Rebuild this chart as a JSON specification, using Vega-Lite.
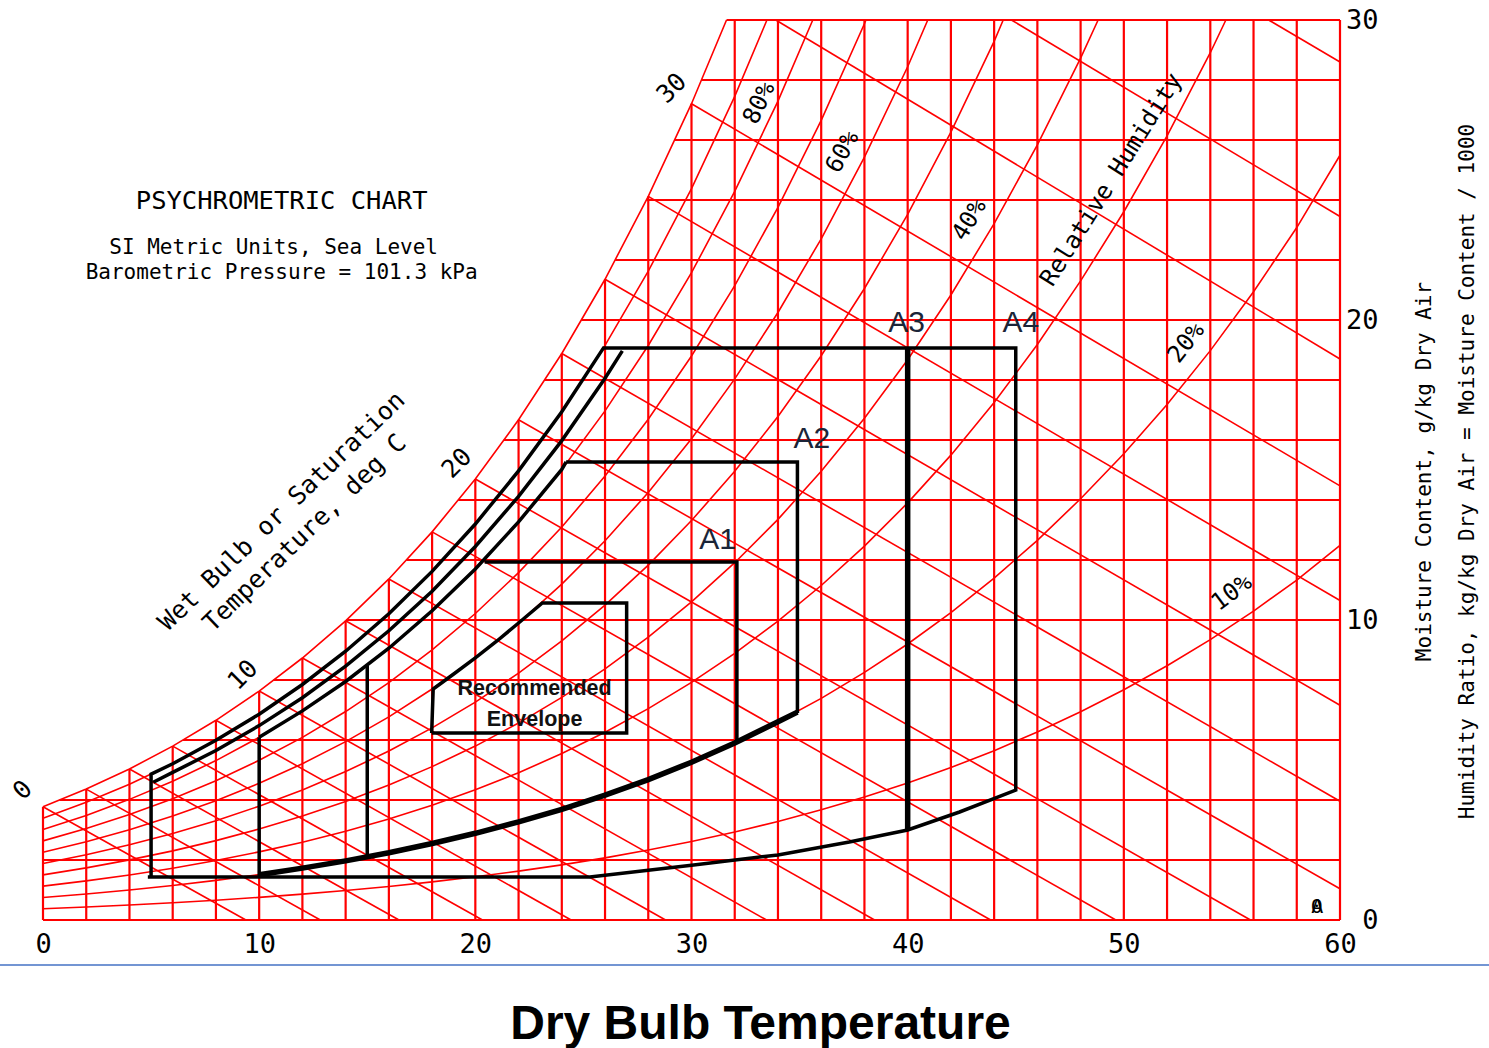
{
"$schema":"https://vega.github.io/schema/vega-lite/v6.json",
"width":1297,"height":900,
"autosize":{"type":"none"},
"padding":{"left":43,"top":20,"right":149,"bottom":128},
"background":"white",
"config":{"view":{"stroke":null}},
"datasets":{
"grid":[
{"x":0,"y":0,"x2":0,"y2":3.775},{"x":2,"y":0,"x2":2,"y2":4.364},{"x":4,"y":0,"x2":4,"y2":5.034},{"x":6,"y":0,"x2":6,"y2":5.795},{"x":8,"y":0,"x2":8,"y2":6.657},{"x":10,"y":0,"x2":10,"y2":7.632},{"x":12,"y":0,"x2":12,"y2":8.733},{"x":14,"y":0,"x2":14,"y2":9.973},{"x":16,"y":0,"x2":16,"y2":11.369},{"x":18,"y":0,"x2":18,"y2":12.938},{"x":20,"y":0,"x2":20,"y2":14.699},{"x":22,"y":0,"x2":22,"y2":16.673},{"x":24,"y":0,"x2":24,"y2":18.884},{"x":26,"y":0,"x2":26,"y2":21.358},{"x":28,"y":0,"x2":28,"y2":24.122},{"x":30,"y":0,"x2":30,"y2":27.21},
{"x":32,"y":0,"x2":32,"y2":30},{"x":34,"y":0,"x2":34,"y2":30},{"x":36,"y":0,"x2":36,"y2":30},{"x":38,"y":0,"x2":38,"y2":30},{"x":40,"y":0,"x2":40,"y2":30},{"x":42,"y":0,"x2":42,"y2":30},{"x":44,"y":0,"x2":44,"y2":30},{"x":46,"y":0,"x2":46,"y2":30},{"x":48,"y":0,"x2":48,"y2":30},{"x":50,"y":0,"x2":50,"y2":30},{"x":52,"y":0,"x2":52,"y2":30},{"x":54,"y":0,"x2":54,"y2":30},{"x":56,"y":0,"x2":56,"y2":30},{"x":58,"y":0,"x2":58,"y2":30},{"x":60,"y":0,"x2":60,"y2":30},
{"x":0,"y":0,"x2":60,"y2":0},{"x":0,"y":2,"x2":60,"y2":2},{"x":0.764,"y":4,"x2":60,"y2":4},{"x":6.476,"y":6,"x2":60,"y2":6},{"x":10.668,"y":8,"x2":60,"y2":8},{"x":14.039,"y":10,"x2":60,"y2":10},{"x":16.804,"y":12,"x2":60,"y2":12},{"x":19.206,"y":14,"x2":60,"y2":14},{"x":21.318,"y":16,"x2":60,"y2":16},{"x":23.2,"y":18,"x2":60,"y2":18},{"x":24.902,"y":20,"x2":60,"y2":20},{"x":26.465,"y":22,"x2":60,"y2":22},{"x":27.912,"y":24,"x2":60,"y2":24},{"x":29.216,"y":26,"x2":60,"y2":26},{"x":30.459,"y":28,"x2":60,"y2":28},{"x":31.62,"y":30,"x2":60,"y2":30}
],
"wb":[
{"x":0,"y":3.775,"x2":9.385,"y2":0},{"x":2,"y":4.364,"x2":12.83,"y2":0},{"x":4,"y":5.034,"x2":16.47,"y2":0},{"x":6,"y":5.795,"x2":20.33,"y2":0},{"x":8,"y":6.657,"x2":24.43,"y2":0},{"x":10,"y":7.632,"x2":28.8,"y2":0},{"x":12,"y":8.733,"x2":33.47,"y2":0},{"x":14,"y":9.973,"x2":38.47,"y2":0},{"x":16,"y":11.369,"x2":43.84,"y2":0},{"x":18,"y":12.938,"x2":49.63,"y2":0},{"x":20,"y":14.699,"x2":55.86,"y2":0},{"x":22,"y":16.673,"x2":60,"y2":1.04},{"x":24,"y":18.884,"x2":60,"y2":3.96},{"x":26,"y":21.358,"x2":60,"y2":7.16},{"x":28,"y":24.122,"x2":60,"y2":10.65},{"x":30,"y":27.21,"x2":60,"y2":14.47},{"x":33.9,"y":30,"x2":60,"y2":18.7},{"x":44.8,"y":30,"x2":60,"y2":23.45},{"x":56.7,"y":30,"x2":60,"y2":28.6}
],
"rh":[
{"c":10,"x":0,"y":0.375},{"c":10,"x":2,"y":0.434},{"c":10,"x":4,"y":0.5},{"c":10,"x":6,"y":0.575},{"c":10,"x":8,"y":0.659},{"c":10,"x":10,"y":0.755},{"c":10,"x":12,"y":0.862},{"c":10,"x":14,"y":0.983},{"c":10,"x":16,"y":1.119},{"c":10,"x":18,"y":1.27},{"c":10,"x":20,"y":1.439},{"c":10,"x":22,"y":1.628},{"c":10,"x":24,"y":1.838},{"c":10,"x":26,"y":2.072},{"c":10,"x":28,"y":2.331},{"c":10,"x":30,"y":2.618},{"c":10,"x":32,"y":2.935},{"c":10,"x":34,"y":3.286},{"c":10,"x":36,"y":3.673},{"c":10,"x":38,"y":4.099},{"c":10,"x":40,"y":4.566},{"c":10,"x":42,"y":5.081},{"c":10,"x":44,"y":5.645},{"c":10,"x":46,"y":6.265},{"c":10,"x":48,"y":6.943},{"c":10,"x":50,"y":7.675},{"c":10,"x":52,"y":8.476},{"c":10,"x":54,"y":9.347},{"c":10,"x":56,"y":10.297},{"c":10,"x":58,"y":11.331},{"c":10,"x":60,"y":12.49},
{"c":20,"x":0,"y":0.751},{"c":20,"x":2,"y":0.868},{"c":20,"x":4,"y":1.0},{"c":20,"x":6,"y":1.15},{"c":20,"x":8,"y":1.32},{"c":20,"x":10,"y":1.512},{"c":20,"x":12,"y":1.727},{"c":20,"x":14,"y":1.969},{"c":20,"x":16,"y":2.241},{"c":20,"x":18,"y":2.545},{"c":20,"x":20,"y":2.885},{"c":20,"x":22,"y":3.265},{"c":20,"x":24,"y":3.687},{"c":20,"x":26,"y":4.157},{"c":20,"x":28,"y":4.679},{"c":20,"x":30,"y":5.258},{"c":20,"x":32,"y":5.898},{"c":20,"x":34,"y":6.607},{"c":20,"x":36,"y":7.389},{"c":20,"x":38,"y":8.252},{"c":20,"x":40,"y":9.2},{"c":20,"x":42,"y":10.245},{"c":20,"x":44,"y":11.394},{"c":20,"x":46,"y":12.657},{"c":20,"x":48,"y":14.042},{"c":20,"x":50,"y":15.542},{"c":20,"x":52,"y":17.186},{"c":20,"x":54,"y":18.979},{"c":20,"x":56,"y":20.941},{"c":20,"x":58,"y":23.082},{"c":20,"x":60,"y":25.492},
{"c":30,"x":0,"y":1.128},{"c":30,"x":2,"y":1.303},{"c":30,"x":4,"y":1.502},{"c":30,"x":6,"y":1.727},{"c":30,"x":8,"y":1.982},{"c":30,"x":10,"y":2.27},{"c":30,"x":12,"y":2.594},{"c":30,"x":14,"y":2.959},{"c":30,"x":16,"y":3.368},{"c":30,"x":18,"y":3.826},{"c":30,"x":20,"y":4.338},{"c":30,"x":22,"y":4.91},{"c":30,"x":24,"y":5.547},{"c":30,"x":26,"y":6.257},{"c":30,"x":28,"y":7.045},{"c":30,"x":30,"y":7.92},{"c":30,"x":32,"y":8.89},{"c":30,"x":34,"y":9.963},{"c":30,"x":36,"y":11.15},{"c":30,"x":38,"y":12.461},{"c":30,"x":40,"y":13.903},{"c":30,"x":42,"y":15.495},{"c":30,"x":44,"y":17.249},{"c":30,"x":46,"y":19.181},{"c":30,"x":48,"y":21.303},{"c":30,"x":50,"y":23.608},{"c":30,"x":52,"y":26.14},{"c":30,"x":54,"y":28.909},{"c":30,"x":54.72,"y":30},
{"c":40,"x":0,"y":1.504},{"c":40,"x":2,"y":1.738},{"c":40,"x":4,"y":2.004},{"c":40,"x":6,"y":2.305},{"c":40,"x":8,"y":2.646},{"c":40,"x":10,"y":3.031},{"c":40,"x":12,"y":3.464},{"c":40,"x":14,"y":3.951},{"c":40,"x":16,"y":4.498},{"c":40,"x":18,"y":5.112},{"c":40,"x":20,"y":5.797},{"c":40,"x":22,"y":6.564},{"c":40,"x":24,"y":7.419},{"c":40,"x":26,"y":8.371},{"c":40,"x":28,"y":9.429},{"c":40,"x":30,"y":10.606},{"c":40,"x":32,"y":11.91},{"c":40,"x":34,"y":13.355},{"c":40,"x":36,"y":14.956},{"c":40,"x":38,"y":16.727},{"c":40,"x":40,"y":18.677},{"c":40,"x":42,"y":20.834},{"c":40,"x":44,"y":23.213},{"c":40,"x":46,"y":25.84},{"c":40,"x":48,"y":28.732},{"c":40,"x":48.81,"y":30},
{"c":50,"x":0,"y":1.882},{"c":50,"x":2,"y":2.175},{"c":50,"x":4,"y":2.507},{"c":50,"x":6,"y":2.884},{"c":50,"x":8,"y":3.311},{"c":50,"x":10,"y":3.793},{"c":50,"x":12,"y":4.336},{"c":50,"x":14,"y":4.947},{"c":50,"x":16,"y":5.633},{"c":50,"x":18,"y":6.403},{"c":50,"x":20,"y":7.264},{"c":50,"x":22,"y":8.226},{"c":50,"x":24,"y":9.301},{"c":50,"x":26,"y":10.499},{"c":50,"x":28,"y":11.831},{"c":50,"x":30,"y":13.314},{"c":50,"x":32,"y":14.959},{"c":50,"x":34,"y":16.784},{"c":50,"x":36,"y":18.808},{"c":50,"x":38,"y":21.05},{"c":50,"x":40,"y":23.522},{"c":50,"x":42,"y":26.262},{"c":50,"x":44,"y":29.29},{"c":50,"x":44.42,"y":30},
{"c":60,"x":0,"y":2.259},{"c":60,"x":2,"y":2.611},{"c":60,"x":4,"y":3.011},{"c":60,"x":6,"y":3.464},{"c":60,"x":8,"y":3.977},{"c":60,"x":10,"y":4.557},{"c":60,"x":12,"y":5.21},{"c":60,"x":14,"y":5.946},{"c":60,"x":16,"y":6.772},{"c":60,"x":18,"y":7.699},{"c":60,"x":20,"y":8.737},{"c":60,"x":22,"y":9.898},{"c":60,"x":24,"y":11.194},{"c":60,"x":26,"y":12.641},{"c":60,"x":28,"y":14.252},{"c":60,"x":30,"y":16.045},{"c":60,"x":32,"y":18.037},{"c":60,"x":34,"y":20.251},{"c":60,"x":36,"y":22.707},{"c":60,"x":38,"y":25.432},{"c":60,"x":40,"y":28.442},{"c":60,"x":40.93,"y":30},
{"c":70,"x":0,"y":2.638},{"c":70,"x":2,"y":3.049},{"c":70,"x":4,"y":3.515},{"c":70,"x":6,"y":4.045},{"c":70,"x":8,"y":4.645},{"c":70,"x":10,"y":5.323},{"c":70,"x":12,"y":6.087},{"c":70,"x":14,"y":6.948},{"c":70,"x":16,"y":7.915},{"c":70,"x":18,"y":9.001},{"c":70,"x":20,"y":10.217},{"c":70,"x":22,"y":11.578},{"c":70,"x":24,"y":13.099},{"c":70,"x":26,"y":14.798},{"c":70,"x":28,"y":16.691},{"c":70,"x":30,"y":18.8},{"c":70,"x":32,"y":21.146},{"c":70,"x":34,"y":23.754},{"c":70,"x":36,"y":26.653},{"c":70,"x":38,"y":29.874},{"c":70,"x":38.07,"y":30},
{"c":80,"x":0,"y":3.016},{"c":80,"x":2,"y":3.487},{"c":80,"x":4,"y":4.021},{"c":80,"x":6,"y":4.627},{"c":80,"x":8,"y":5.314},{"c":80,"x":10,"y":6.091},{"c":80,"x":12,"y":6.966},{"c":80,"x":14,"y":7.953},{"c":80,"x":16,"y":9.062},{"c":80,"x":18,"y":10.308},{"c":80,"x":20,"y":11.704},{"c":80,"x":22,"y":13.267},{"c":80,"x":24,"y":15.016},{"c":80,"x":26,"y":16.97},{"c":80,"x":28,"y":19.149},{"c":80,"x":30,"y":21.579},{"c":80,"x":32,"y":24.285},{"c":80,"x":34,"y":27.297},{"c":80,"x":35.61,"y":30},
{"c":90,"x":0,"y":3.395},{"c":90,"x":2,"y":3.925},{"c":90,"x":4,"y":4.527},{"c":90,"x":6,"y":5.211},{"c":90,"x":8,"y":5.985},{"c":90,"x":10,"y":6.86},{"c":90,"x":12,"y":7.848},{"c":90,"x":14,"y":8.961},{"c":90,"x":16,"y":10.214},{"c":90,"x":18,"y":11.62},{"c":90,"x":20,"y":13.198},{"c":90,"x":22,"y":14.966},{"c":90,"x":24,"y":16.944},{"c":90,"x":26,"y":19.156},{"c":90,"x":28,"y":21.626},{"c":90,"x":30,"y":24.382},{"c":90,"x":32,"y":27.454},{"c":90,"x":33.49,"y":30},
{"c":100,"x":0,"y":3.775},{"c":100,"x":2,"y":4.364},{"c":100,"x":4,"y":5.034},{"c":100,"x":6,"y":5.795},{"c":100,"x":8,"y":6.657},{"c":100,"x":10,"y":7.632},{"c":100,"x":12,"y":8.733},{"c":100,"x":14,"y":9.973},{"c":100,"x":16,"y":11.369},{"c":100,"x":18,"y":12.938},{"c":100,"x":20,"y":14.699},{"c":100,"x":22,"y":16.673},{"c":100,"x":24,"y":18.884},{"c":100,"x":26,"y":21.358},{"c":100,"x":28,"y":24.122},{"c":100,"x":30,"y":27.21},{"c":100,"x":31.62,"y":30}
],
"env":[
{"s":"rh80","o":1,"x":10,"y":6.09},{"s":"rh80","o":2,"x":12,"y":6.97},{"s":"rh80","o":3,"x":14,"y":7.95},{"s":"rh80","o":4,"x":16,"y":9.06},{"s":"rh80","o":5,"x":18,"y":10.31},{"s":"rh80","o":6,"x":20,"y":11.7},{"s":"rh80","o":7,"x":22,"y":13.27},{"s":"rh80","o":8,"x":24,"y":15.02},{"s":"rh80","o":9,"x":24.2,"y":15.27},
{"s":"rh85","o":1,"x":5.1,"y":4.59},{"s":"rh85","o":2,"x":6,"y":4.92},{"s":"rh85","o":3,"x":8,"y":5.65},{"s":"rh85","o":4,"x":10,"y":6.48},{"s":"rh85","o":5,"x":12,"y":7.41},{"s":"rh85","o":6,"x":14,"y":8.46},{"s":"rh85","o":7,"x":16,"y":9.64},{"s":"rh85","o":8,"x":18,"y":10.96},{"s":"rh85","o":9,"x":20,"y":12.45},{"s":"rh85","o":10,"x":22,"y":14.12},{"s":"rh85","o":11,"x":24,"y":15.98},{"s":"rh85","o":12,"x":26,"y":18.06},{"s":"rh85","o":13,"x":26.8,"y":18.97},
{"s":"a4","o":1,"x":5,"y":1.43},{"s":"a4","o":2,"x":5,"y":4.86},{"s":"a4","o":3,"x":6,"y":5.21},{"s":"a4","o":4,"x":8,"y":5.99},{"s":"a4","o":5,"x":10,"y":6.86},{"s":"a4","o":6,"x":12,"y":7.85},{"s":"a4","o":7,"x":14,"y":8.96},{"s":"a4","o":8,"x":16,"y":10.21},{"s":"a4","o":9,"x":18,"y":11.62},{"s":"a4","o":10,"x":20,"y":13.2},{"s":"a4","o":11,"x":22,"y":14.97},{"s":"a4","o":12,"x":24,"y":16.94},{"s":"a4","o":13,"x":25.93,"y":19.07},{"s":"a4","o":14,"x":45,"y":19.07},{"s":"a4","o":15,"x":45,"y":4.33},{"s":"a4","o":16,"x":42.4,"y":3.6},{"s":"a4","o":17,"x":40,"y":3.0},{"s":"a4","o":18,"x":37.3,"y":2.6},{"s":"a4","o":19,"x":34,"y":2.17},{"s":"a4","o":20,"x":30.1,"y":1.83},{"s":"a4","o":21,"x":25.3,"y":1.43},{"s":"a4","o":22,"x":4.85,"y":1.43},
{"s":"a1l","o":1,"x":15,"y":2.1},{"s":"a1l","o":2,"x":15,"y":8.49},
{"s":"a1","o":1,"x":20.43,"y":11.93},{"s":"a1","o":2,"x":32.1,"y":11.93},{"s":"a1","o":3,"x":32.1,"y":5.93},
{"s":"a2l","o":1,"x":10,"y":1.43},{"s":"a2l","o":2,"x":10,"y":6.09},
{"s":"a2","o":1,"x":24.2,"y":15.27},{"s":"a2","o":2,"x":34.9,"y":15.27},{"s":"a2","o":3,"x":34.9,"y":6.9},
{"s":"rec","o":1,"x":17.98,"y":6.23},{"s":"rec","o":2,"x":18.05,"y":7.7},{"s":"rec","o":3,"x":19,"y":8.2},{"s":"rec","o":4,"x":20,"y":8.74},{"s":"rec","o":5,"x":21,"y":9.3},{"s":"rec","o":6,"x":22,"y":9.9},{"s":"rec","o":7,"x":23.1,"y":10.57},{"s":"rec","o":8,"x":27,"y":10.57},{"s":"rec","o":9,"x":27,"y":6.23},{"s":"rec","o":10,"x":17.98,"y":6.23}
],
"thick":[
{"s":"rh20","o":1,"x":10,"y":1.51},{"s":"rh20","o":2,"x":12,"y":1.73},{"s":"rh20","o":3,"x":14,"y":1.97},{"s":"rh20","o":4,"x":16,"y":2.24},{"s":"rh20","o":5,"x":18,"y":2.55},{"s":"rh20","o":6,"x":20,"y":2.89},{"s":"rh20","o":7,"x":22,"y":3.27},{"s":"rh20","o":8,"x":24,"y":3.69},{"s":"rh20","o":9,"x":26,"y":4.16},{"s":"rh20","o":10,"x":28,"y":4.68},{"s":"rh20","o":11,"x":30,"y":5.26},{"s":"rh20","o":12,"x":32,"y":5.9},{"s":"rh20","o":13,"x":34,"y":6.61},{"s":"rh20","o":14,"x":34.9,"y":6.93},
{"s":"a3v","o":1,"x":40,"y":19.07},{"s":"a3v","o":2,"x":40,"y":3.0}
]
},
"encoding":{
"x":{"field":"x","type":"quantitative","scale":{"domain":[0,60],"nice":false,"zero":false},
 "axis":{"orient":"bottom","values":[0,10,20,30,40,50,60],"grid":false,"ticks":false,"domain":false,"labelFont":"DejaVu Sans Mono","labelFontSize":27,"labelColor":"black","labelPadding":11,"labelFlush":false,"labelOverlap":false,
 "title":"Dry Bulb Temperature","titleFont":"Liberation Sans","titleFontSize":48,"titleFontWeight":"bold","titleColor":"black","titleX":717,"titleY":118,"titleBaseline":"alphabetic","titleAlign":"center"}},
"y":{"field":"y","type":"quantitative","scale":{"domain":[0,30],"nice":false,"zero":false},
 "axis":{"orient":"right","values":[0,10,20,30],"grid":false,"ticks":false,"domain":false,"labelFont":"DejaVu Sans Mono","labelFontSize":27,"labelColor":"black","labelAlign":"right","labelBaseline":"middle","labelPadding":38,"labelFlush":false,"labelOverlap":false,"title":null}}
},
"layer":[
{"data":{"name":"grid"},"mark":{"type":"rule","color":"#ff0000","strokeWidth":2.2},"encoding":{"x2":{"field":"x2"},"y2":{"field":"y2"}}},
{"data":{"name":"wb"},"mark":{"type":"rule","color":"#ff0000","strokeWidth":1.6},"encoding":{"x2":{"field":"x2"},"y2":{"field":"y2"}}},
{"data":{"name":"rh"},"mark":{"type":"line","color":"#ff0000","strokeWidth":1.6},"encoding":{"detail":{"field":"c","type":"nominal"}}},
{"data":{"values":[{"x":-2.1,"y":-1.5,"x2":67,"y2":-1.5}]},"mark":{"type":"rule","color":"#4472c4","strokeWidth":1.6},"encoding":{"x2":{"field":"x2"},"y2":{"field":"y2"}}},
{"data":{"name":"env"},"mark":{"type":"line","color":"black","strokeWidth":3.5,"strokeJoin":"miter"},"encoding":{"detail":{"field":"s","type":"nominal"},"order":{"field":"o","type":"quantitative"}}},
{"data":{"name":"thick"},"mark":{"type":"line","color":"black","strokeWidth":5.5,"strokeJoin":"miter"},"encoding":{"detail":{"field":"s","type":"nominal"},"order":{"field":"o","type":"quantitative"}}},
{"data":{"values":[{"label":"PSYCHROMETRIC CHART","x":11.04,"y":23.97}]},"mark":{"type":"text","font":"DejaVu Sans Mono","fontSize":25.5,"color":"black"},"encoding":{"text":{"field":"label"}}},
{"data":{"values":[{"label":"SI Metric Units, Sea Level","x":10.67,"y":22.4},{"label":"Barometric Pressure = 101.3 kPa","x":11.04,"y":21.57}]},"mark":{"type":"text","font":"DejaVu Sans Mono","fontSize":21,"color":"black"},"encoding":{"text":{"field":"label"}}},
{"data":{"values":[{"label":"0","x":-0.94,"y":4.33},{"label":"10","x":9.24,"y":8.17},{"label":"20","x":19.14,"y":15.23},{"label":"30","x":29.08,"y":27.73}]},"mark":{"type":"text","font":"DejaVu Sans Mono","fontSize":25,"angle":315,"color":"black"},"encoding":{"text":{"field":"label"}}},
{"data":{"values":[{"label":"Wet Bulb or Saturation","x":11.04,"y":13.63},{"label":"Temperature, deg C","x":12.1,"y":12.9}]},"mark":{"type":"text","font":"DejaVu Sans Mono","fontSize":25,"angle":316,"color":"black"},"encoding":{"text":{"field":"label"}}},
{"data":{"values":[{"label":"80%","x":33.15,"y":27.23}]},"mark":{"type":"text","font":"DejaVu Sans Mono","fontSize":24,"angle":296,"color":"black"},"encoding":{"text":{"field":"label"}}},
{"data":{"values":[{"label":"60%","x":37.0,"y":25.6}]},"mark":{"type":"text","font":"DejaVu Sans Mono","fontSize":24,"angle":298,"color":"black"},"encoding":{"text":{"field":"label"}}},
{"data":{"values":[{"label":"40%","x":42.87,"y":23.33}]},"mark":{"type":"text","font":"DejaVu Sans Mono","fontSize":24,"angle":301,"color":"black"},"encoding":{"text":{"field":"label"}}},
{"data":{"values":[{"label":"20%","x":52.9,"y":19.23}]},"mark":{"type":"text","font":"DejaVu Sans Mono","fontSize":24,"angle":308,"color":"black"},"encoding":{"text":{"field":"label"}}},
{"data":{"values":[{"label":"10%","x":55.0,"y":10.9}]},"mark":{"type":"text","font":"DejaVu Sans Mono","fontSize":24,"angle":323,"color":"black"},"encoding":{"text":{"field":"label"}}},
{"data":{"values":[{"label":"Relative Humidity","x":49.44,"y":24.67}]},"mark":{"type":"text","font":"DejaVu Sans Mono","fontSize":24,"angle":302,"color":"black"},"encoding":{"text":{"field":"label"}}},
{"data":{"values":[{"label":"A1","x":31.21,"y":12.67},{"label":"A2","x":35.57,"y":16.03},{"label":"A3","x":39.95,"y":19.9},{"label":"A4","x":45.23,"y":19.9}]},"mark":{"type":"text","font":"Liberation Sans","fontSize":30,"color":"#1b2538"},"encoding":{"text":{"field":"label"}}},
{"data":{"values":[{"label":"Recommended","x":22.74,"y":7.7},{"label":"Envelope","x":22.74,"y":6.67}]},"mark":{"type":"text","font":"Liberation Sans","fontSize":21.5,"fontWeight":"bold","color":"#111111"},"encoding":{"text":{"field":"label"}}},
{"data":{"values":[{"label":"Moisture Content, g/kg Dry Air","x":63.91,"y":14.95},{"label":"Humidity Ratio, kg/kg Dry Air = Moisture Content / 1000","x":65.9,"y":14.95}]},"mark":{"type":"text","font":"DejaVu Sans Mono","fontSize":21,"angle":270,"color":"black"},"encoding":{"text":{"field":"label"}}},
{"data":{"values":[{"label":"0","x":58.92,"y":0.43},{"label":"A","x":58.95,"y":0.43}]},"mark":{"type":"text","font":"DejaVu Sans Mono","fontSize":20,"color":"black"},"encoding":{"text":{"field":"label"}}}
]
}
